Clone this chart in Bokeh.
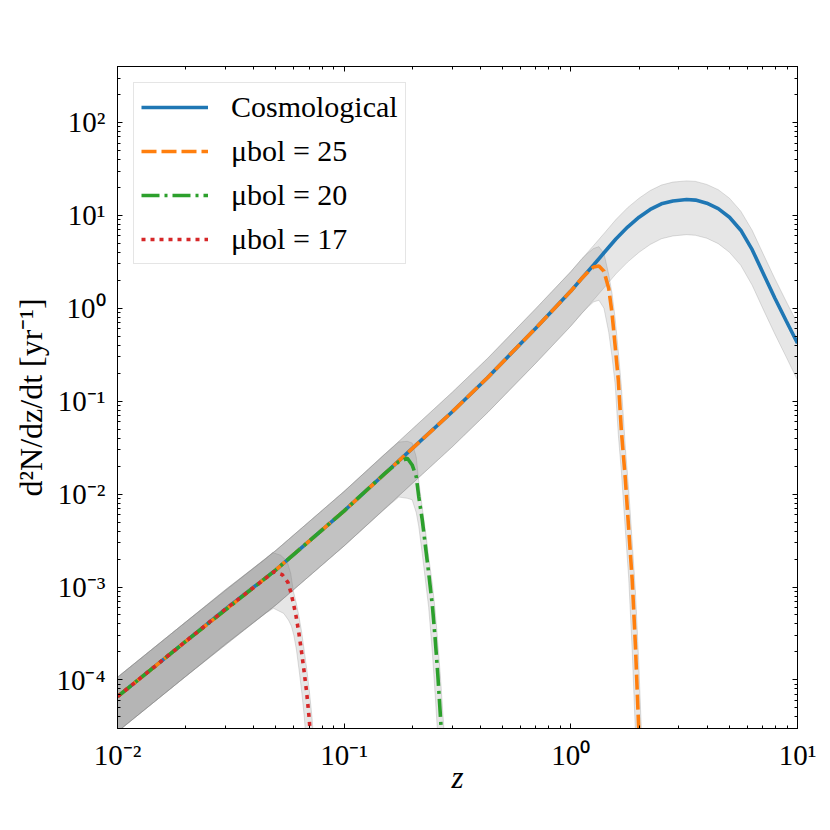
from bokeh.plotting import figure
from bokeh.models import (LogAxis, FixedTicker, CustomJSTickFormatter, Legend, LegendItem)
from bokeh.embed import file_html
from bokeh.resources import INLINE

# ---------------- data ----------------
# Cosmological rate and its band
z_cosmo = [0.01, 0.02, 0.03, 0.05, 0.1, 0.18, 0.3, 0.43, 0.7, 1.0, 1.12, 1.26, 1.41, 1.58, 1.78,
           2.0, 2.24, 2.51, 2.82, 3.24, 3.55, 3.98, 4.47, 5.01, 5.62, 6.31, 7.08, 7.94, 8.91, 10.0]
rate_cosmo = [6.6e-5, 2.6e-4, 5.8e-4, 1.53e-3, 6.6e-3, 0.0245, 0.0769, 0.18, 0.61, 1.53, 2.11, 2.92,
              4.03, 5.56, 7.48, 9.55, 11.57, 13.3, 14.3, 14.8, 14.6, 13.5, 11.8, 9.55, 6.92, 4.27,
              2.34, 1.29, 0.733, 0.42]
upper_cosmo = [1.07e-4, 4.2e-4, 9.4e-4, 2.48e-3, 0.0107, 0.0397, 0.125, 0.29, 0.99, 2.48, 3.42, 4.73,
               6.5, 9.0, 12.1, 15.3, 18.5, 21.2, 22.8, 23.5, 23.2, 21.5, 18.9, 15.3, 11.1, 6.9,
               3.78, 2.09, 1.19, 0.68]
lower_cosmo = [2.77e-5, 1.09e-4, 2.44e-4, 6.4e-4, 2.77e-3, 0.0103, 0.0323, 0.0756, 0.256, 0.643, 0.886,
               1.23, 1.69, 2.34, 3.14, 4.0, 4.86, 5.6, 6.0, 6.2, 6.1, 5.67, 4.96, 4.0, 2.9, 1.77,
               0.96, 0.53, 0.3, 0.168]

# mu_bol = 25
z_25 = [0.01, 0.02, 0.05, 0.1, 0.18, 0.3, 0.43, 0.7, 1.0, 1.12, 1.2, 1.26, 1.33, 1.4, 1.47, 1.52,
        1.57, 1.62, 1.67, 1.741, 1.80, 1.865, 1.928, 1.993, 2.03, 2.07]
rate_25 = [6.6e-5, 2.6e-4, 1.53e-3, 6.6e-3, 0.0245, 0.0769, 0.18, 0.61, 1.53, 2.11, 2.5, 2.78, 2.85,
           2.5, 1.63, 0.88, 0.384, 0.169, 0.049, 0.0142, 4.2e-3, 1.2e-3, 2.3e-4, 2.95e-5, 9e-6, 2e-6]
upper_25 = [1.07e-4, 4.2e-4, 2.48e-3, 0.0107, 0.0397, 0.125, 0.29, 0.99, 2.48, 3.42, 4.0, 4.4, 4.6,
            3.9, 2.3, 1.44, 0.76, 0.34, 0.146, 0.031, 0.0111, 3.05e-3, 8.8e-4, 1.55e-4, 4.9e-5, 1.5e-5]
lower_25 = [2.77e-5, 1.09e-4, 6.4e-4, 2.77e-3, 0.0103, 0.0323, 0.0756, 0.256, 0.643, 0.886, 1.05, 1.17,
            1.22, 1.0, 0.55, 0.3, 0.149, 0.0436, 0.0178, 4e-3, 1.26e-3, 2.1e-4, 2.7e-5, 3e-6, 1e-6, 1e-7]

# mu_bol = 20
z_20 = [0.01, 0.02, 0.05, 0.1, 0.15, 0.1742, 0.19, 0.1995, 0.208, 0.2133, 0.221, 0.2284, 0.236,
        0.245, 0.252, 0.259, 0.266, 0.272, 0.28]
rate_20 = [6.6e-5, 2.6e-4, 1.53e-3, 6.6e-3, 0.0164, 0.0223, 0.0243, 0.0206, 0.0154, 9.4e-3, 5.3e-3,
           2.73e-3, 1.41e-3, 6.3e-4, 2.8e-4, 1.12e-4, 4.0e-5, 1.6e-5, 4e-6]
upper_20 = [1.07e-4, 4.2e-4, 2.48e-3, 0.0107, 0.0266, 0.0363, 0.037, 0.0355, 0.025, 0.0138, 7.2e-3,
            4.0e-3, 2.1e-3, 1.07e-3, 5.6e-4, 2.5e-4, 1.07e-4, 4.7e-5, 1.6e-5]
lower_20 = [2.77e-5, 1.09e-4, 6.4e-4, 2.77e-3, 6.8e-3, 9.3e-3, 9.0e-3, 8.7e-3, 6.3e-3, 4.5e-3, 2.3e-3,
            1.17e-3, 6e-4, 1.95e-4, 7e-5, 2.4e-5, 8e-6, 3e-6, 1e-6]

# mu_bol = 17
z_17 = [0.01, 0.02, 0.03, 0.045, 0.049, 0.0533, 0.0565, 0.058, 0.0596, 0.0613, 0.063, 0.0647,
        0.0665, 0.0683, 0.07, 0.0715, 0.073]
rate_17 = [6.6e-5, 2.6e-4, 5.8e-4, 1.24e-3, 1.46e-3, 1.36e-3, 1.12e-3, 9.0e-4, 6.8e-4, 4.9e-4, 3.3e-4,
           2.1e-4, 1.26e-4, 7.4e-5, 4.0e-5, 2.0e-5, 8e-6]
z_upper_17 = [0.01, 0.02, 0.03, 0.045, 0.0483, 0.0524, 0.056, 0.0581, 0.0597, 0.0614, 0.0631, 0.0649,
              0.0666, 0.0685, 0.0703, 0.0721, 0.0736, 0.075]
upper_17 = [1.07e-4, 4.2e-4, 9.4e-4, 2.0e-3, 2.35e-3, 2.2e-3, 1.9e-3, 1.4e-3, 9.0e-4, 6.8e-4, 4.9e-4,
            3.3e-4, 2.1e-4, 1.26e-4, 7.4e-5, 4.0e-5, 2.0e-5, 8e-6]
z_lower_17 = [0.01, 0.02, 0.03, 0.045, 0.0488, 0.0541, 0.0568, 0.0585, 0.060, 0.0616, 0.0633, 0.065,
              0.0667, 0.0681, 0.0695]
lower_17 = [2.77e-5, 1.09e-4, 2.44e-4, 5.2e-4, 5.9e-4, 5.2e-4, 4.4e-4, 3.8e-4, 3.0e-4, 2.1e-4, 1.26e-4,
            7.4e-5, 4.0e-5, 2.0e-5, 8e-6]

series_labels = ["Cosmological", "μbol = 25", "μbol = 20", "μbol = 17"]
series_colors = ["#1f77b4", "#ff7f0e", "#2ca02c", "#d62728"]

x_ticks = [0.01, 0.1, 1.0, 10.0]
x_tick_labels = ["10⁻²", "10⁻¹", "10⁰", "10¹"]
y_ticks = [1e-4, 1e-3, 1e-2, 1e-1, 1.0, 10.0, 100.0]
y_tick_labels = ["10⁻⁴", "10⁻³", "10⁻²", "10⁻¹", "10⁰", "10¹", "10²"]

x_label = "z"
y_label = "d²N/dz/dt [yr⁻¹]"

FONT = "Liberation Serif"

# ---------------- figure ----------------
p = figure(width=822, height=822, x_axis_type="log", y_axis_type="log",
           x_range=(0.01, 10), y_range=(3e-5, 400),
           min_border_left=117, min_border_right=25, min_border_top=66, min_border_bottom=94,
           output_backend="svg", toolbar_location=None)
p.xgrid.visible = False
p.ygrid.visible = False
p.outline_line_color = "black"
p.outline_line_width = 1
p.background_fill_color = "white"
p.border_fill_color = "white"

x_minor = [m * 10.0 ** e for e in range(-3, 2) for m in range(2, 10)]
y_minor = [m * 10.0 ** e for e in range(-6, 3) for m in range(2, 10)]

label_code = """
for (let i = 0; i < tvals.length; i++) {
  if (Math.abs(Math.log10(tick) - Math.log10(tvals[i])) < 1e-6) { return tlabels[i]; }
}
return '';
"""

def style_axis(ax):
    ax.axis_line_color = "black"
    ax.axis_line_width = 1
    ax.major_tick_in = 5
    ax.major_tick_out = 0
    ax.minor_tick_in = 3
    ax.minor_tick_out = 0
    ax.major_tick_line_color = "black"
    ax.minor_tick_line_color = "black"
    ax.major_label_text_font = FONT
    ax.major_label_text_font_size = "29px"
    ax.major_label_text_color = "black"
    ax.axis_label_text_font = FONT
    ax.axis_label_text_color = "black"
    ax.axis_label_text_font_style = "normal"

xa = p.xaxis[0]
xa.ticker = FixedTicker(ticks=x_ticks, minor_ticks=x_minor)
xa.formatter = CustomJSTickFormatter(args=dict(tvals=x_ticks, tlabels=x_tick_labels), code=label_code)
style_axis(xa)
xa.major_label_standoff = 10
xa.axis_label = x_label
xa.axis_label_text_font_size = "31px"
xa.axis_label_text_font_style = "italic"
xa.axis_label_standoff = -14

ya = p.yaxis[0]
ya.ticker = FixedTicker(ticks=y_ticks, minor_ticks=y_minor)
ya.formatter = CustomJSTickFormatter(args=dict(tvals=y_ticks, tlabels=y_tick_labels), code=label_code)
style_axis(ya)
ya.major_label_standoff = 12
ya.axis_label = y_label
ya.axis_label_text_font_size = "32px"
ya.axis_label_standoff = 4

blank = CustomJSTickFormatter(code="return '';")
ra = LogAxis(ticker=FixedTicker(ticks=y_ticks, minor_ticks=y_minor), formatter=blank)
style_axis(ra)
ra.major_label_text_font_size = "1px"
ra.major_label_standoff = 0
p.add_layout(ra, "right")
ta = LogAxis(ticker=FixedTicker(ticks=x_ticks, minor_ticks=x_minor), formatter=blank)
style_axis(ta)
ta.major_label_text_font_size = "1px"
ta.major_label_standoff = 0
p.add_layout(ta, "above")

# ---------------- bands ----------------
band_kw = dict(fill_color="gray", fill_alpha=0.2, line_color="gray", line_alpha=0.25, line_width=1)

def band(zu, vu, zl, vl):
    p.patch(list(zu) + list(zl)[::-1], list(vu) + list(vl)[::-1], **band_kw)

band(z_cosmo, upper_cosmo, z_cosmo, lower_cosmo)
band(z_25, upper_25, z_25, lower_25)
band(z_20, upper_20, z_20, lower_20)
band(z_upper_17, upper_17, z_lower_17, lower_17)

# ---------------- lines ----------------
lw = 3.6
r0 = p.line(z_cosmo, rate_cosmo, line_color=series_colors[0], line_width=lw)
r1 = p.line(z_25, rate_25, line_color=series_colors[1], line_width=lw, line_dash="15 5")
r2 = p.line(z_20, rate_20, line_color=series_colors[2], line_width=lw, line_dash="18 5 3 5")
r3 = p.line(z_17, rate_17, line_color=series_colors[3], line_width=lw, line_dash="4 5")

legend = Legend(items=[LegendItem(label=series_labels[i], renderers=[r]) for i, r in enumerate([r0, r1, r2, r3])],
                location="top_left")
legend.label_text_font = FONT
legend.label_text_font_size = "30px"
legend.label_text_color = "black"
legend.glyph_width = 67
legend.glyph_height = 32
legend.label_height = 32
legend.label_standoff = 23
legend.spacing = 10
legend.padding = 7
legend.margin = 16
legend.border_line_color = "#cccccc"
legend.border_line_width = 1
legend.background_fill_color = "white"
legend.background_fill_alpha = 0.8
p.add_layout(legend)

open("out.html", "w").write(file_html(p, INLINE))
